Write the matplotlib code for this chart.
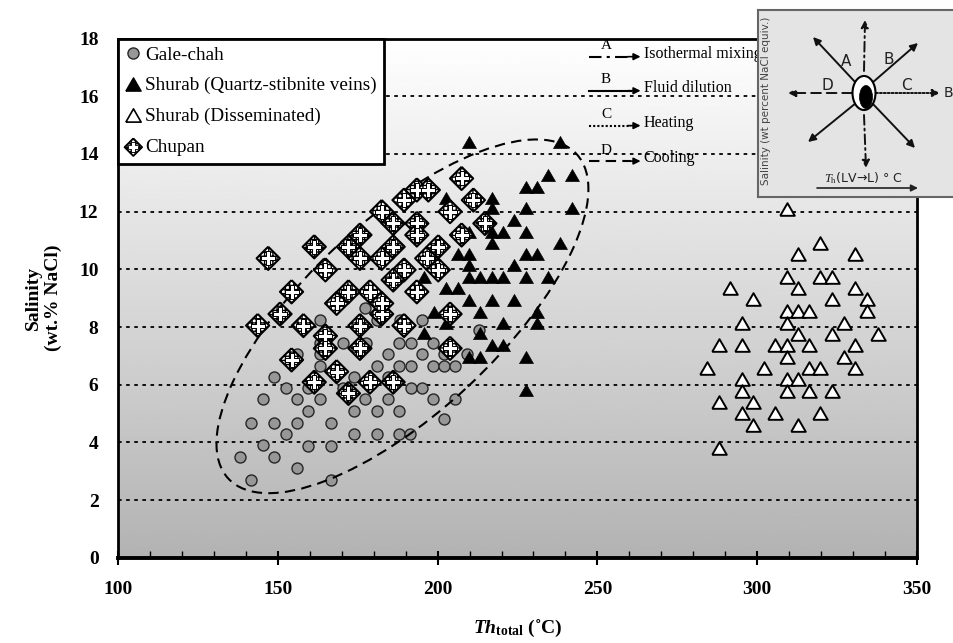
import numpy as np
import matplotlib
matplotlib.use("Agg")
import matplotlib.pyplot as plt
from matplotlib.lines import Line2D
from matplotlib.patches import Ellipse
from matplotlib.transforms import ScaledTranslation
from matplotlib.legend_handler import HandlerTuple

plt.rcParams['font.family'] = 'Liberation Serif'
plt.rcParams['mathtext.fontset'] = 'custom'
plt.rcParams['mathtext.rm'] = 'Liberation Serif'
plt.rcParams['mathtext.bf'] = 'Liberation Serif:bold'
plt.rcParams['mathtext.it'] = 'Liberation Serif:italic'
plt.rcParams['mathtext.bfit'] = 'Liberation Serif:italic:bold'
plt.rcParams['hatch.linewidth'] = 1.0

# Gale-chah (grey circles)
gale_x = [138.2, 141.7, 141.7, 145.3, 145.3, 148.9, 148.9, 148.9, 152.5, 152.5,
          156.0, 156.0, 156.0, 159.6, 159.6, 163.2, 163.2, 163.2, 163.2, 166.6,
          166.6, 166.6, 170.3, 173.8, 173.8, 173.8, 177.4, 177.4, 180.9, 180.9,
          180.9, 184.5, 184.5, 188.0, 188.0, 188.0, 188.0, 191.5, 180.9, 188.2,
          195.1, 213.0, 177.5, 191.7, 198.7, 195.1, 202.1, 209.2, 191.7, 198.7,
          202.1, 205.6, 184.5, 170.3, 191.7, 195.1, 198.7, 205.6, 202.1, 163.2,
          156.0, 159.6]
gale_y = [3.50, 2.70, 4.68, 3.90, 5.49, 6.27, 4.68, 3.50, 5.89, 4.29,
          5.49, 4.68, 3.10, 5.09, 3.89, 5.49, 6.65, 7.08, 8.24, 4.68,
          3.89, 2.70, 7.44, 6.27, 5.09, 4.29, 8.65, 5.49, 6.65, 5.09,
          4.29, 7.08, 5.49, 6.65, 5.09, 4.29, 7.44, 4.29, 8.24, 8.24,
          8.24, 7.90, 7.46, 7.46, 7.46, 7.08, 7.08, 7.08, 6.65, 6.65,
          6.65, 6.65, 6.27, 5.89, 5.89, 5.89, 5.49, 5.49, 4.80, 7.44,
          7.08, 5.89]

# Shurab quartz-stibnite veins (black triangles)
veins_x = [209.9, 238.3, 234.6, 241.9, 227.7, 231.2, 202.6, 216.9, 216.9, 227.7,
           241.9, 224.0, 227.7, 216.9, 220.6, 209.9, 216.9, 238.3, 206.3, 209.9,
           227.7, 231.2, 209.9, 224.0, 195.7, 209.9, 213.3, 216.9, 220.6, 227.7,
           234.6, 202.6, 206.3, 209.9, 216.9, 224.0, 199.0, 213.3, 231.2, 202.6,
           220.6, 231.2, 195.7, 213.3, 216.9, 220.6, 209.9, 213.3, 227.7, 227.7]
veins_y = [14.42, 14.42, 13.27, 13.27, 12.86, 12.86, 12.46, 12.46, 12.11, 12.11,
           12.11, 11.71, 11.30, 11.30, 11.30, 11.30, 10.90, 10.90, 10.53, 10.53,
           10.53, 10.53, 10.15, 10.15, 9.74, 9.74, 9.74, 9.74, 9.74, 9.74,
           9.74, 9.34, 9.34, 8.94, 8.94, 8.94, 8.53, 8.53, 8.53, 8.15,
           8.15, 8.15, 7.78, 7.78, 7.38, 7.38, 6.97, 6.97, 6.97, 5.82]

# Shurab disseminated (open triangles)
dissem_x = [309.2, 319.8, 312.9, 330.6, 309.2, 319.8, 323.5, 291.5, 312.9, 330.6,
            298.6, 323.5, 334.3, 309.2, 312.9, 316.3, 334.3, 295.1, 309.2, 327.1,
            312.9, 323.5, 337.7, 288.0, 295.1, 305.6, 309.2, 316.3, 330.6, 309.2,
            327.1, 284.4, 302.1, 316.3, 319.8, 330.6, 295.1, 309.2, 312.9, 295.1,
            309.2, 316.3, 323.5, 288.0, 298.6, 295.1, 305.6, 319.8, 298.6, 312.9,
            288.0]
dissem_y = [12.08, 10.92, 10.53, 10.53, 9.72, 9.72, 9.72, 9.34, 9.34, 9.34,
            8.96, 8.96, 8.96, 8.55, 8.55, 8.55, 8.55, 8.15, 8.13, 8.15,
            7.76, 7.76, 7.76, 7.38, 7.38, 7.38, 7.38, 7.38, 7.38, 6.97,
            6.97, 6.57, 6.57, 6.57, 6.57, 6.57, 6.19, 6.19, 6.19, 5.79,
            5.79, 5.79, 5.79, 5.39, 5.39, 5.01, 5.01, 5.01, 4.60, 4.60,
            3.82]

# Chupan (crossed diamonds)
chupan_x = [147.0, 143.7, 150.7, 158.0, 161.4, 164.9, 154.3, 168.4, 164.9, 164.9,
            154.3, 168.4, 161.4, 172.1, 175.7, 175.7, 178.8, 186.1, 182.5, 182.5,
            172.1, 178.8, 172.1, 175.7, 182.5, 175.7, 186.1, 182.5, 186.1, 189.5,
            189.5, 186.1, 189.5, 193.5, 197.1, 193.5, 193.5, 193.5, 196.6, 200.2,
            200.2, 203.9, 203.9, 203.9, 207.5, 207.5, 211.2, 214.8]
chupan_y = [10.38, 8.05, 8.45, 8.05, 10.78, 9.98, 9.22, 8.82, 7.69, 7.26,
            6.86, 6.45, 6.09, 5.70, 8.05, 7.26, 6.09, 6.09, 8.45, 8.82,
            9.22, 9.22, 10.78, 10.38, 10.38, 11.19, 10.78, 12.00, 11.59, 12.40,
            9.98, 9.63, 8.05, 12.75, 12.75, 11.59, 11.19, 9.22, 10.38, 10.78,
            9.98, 12.00, 8.45, 7.26, 13.15, 11.19, 12.40, 11.59]

labels = ['Gale-chah', 'Shurab (Quartz-stibnite veins)',
          'Shurab (Disseminated)', 'Chupan']
process_letters = ['A', 'B', 'C', 'D']
process_names = ['Isothermal mixing', 'Fluid dilution', 'Heating', 'Cooling']
process_styles = [(0, (6, 2.5, 1.5, 2.5)), '-', (0, (1, 1)), (0, (5, 3))]

tri = [(-1, -0.866), (1, -0.866), (0, 0.866), (-1, -0.866)]
diamond = [(0, 1), (1, 0), (0, -1), (-1, 0), (0, 1)]

fig = plt.figure(figsize=(9.54, 6.43), dpi=100)
ax = fig.add_axes([118 / 954, 1 - 557.8 / 643, 799 / 954, 519.3 / 643])
ax.set_xlim(100, 350)
ax.set_ylim(0, 18)

# grey gradient background
grad = np.linspace(0.70, 1.0, 256)[:, None]
ax.imshow(grad, extent=[100, 350, 0, 18], origin='lower', aspect='auto',
          cmap='gray', vmin=0, vmax=1, zorder=0)

for yv in range(2, 18, 2):
    ax.axhline(yv, color='k', lw=1.3, ls=(0, (2, 2.5)), zorder=0.5)

ax.scatter(gale_x, gale_y, s=63, marker='o', facecolor='#979797',
           edgecolor='#262626', linewidth=1, zorder=2)
ax.scatter(veins_x, veins_y, s=100, marker=tri, facecolor='k',
           edgecolor='k', linewidth=0.5, zorder=2.6)
ax.scatter(dissem_x, dissem_y, s=110, marker=tri, facecolor='white',
           edgecolor='k', linewidth=1.4, zorder=2.6)

# dashed ellipse around the mixing trend
ell = Ellipse((0, 0), width=4.76, height=1.92, angle=43, fill=False,
              ec='k', lw=1.5, ls=(0, (5, 3)),
              transform=fig.dpi_scale_trans + ScaledTranslation(189.0, 8.37, ax.transData),
              zorder=2.5)
ax.add_patch(ell)

ax.scatter(chupan_x, chupan_y, s=280, marker=diamond, facecolor='white',
           edgecolor='k', linewidth=1.5, hatch='++++', zorder=3)
ax.scatter(chupan_x, chupan_y, s=88, marker='P', facecolor='white',
           edgecolor='k', linewidth=0.7, zorder=3.1)

# process arrows legend (A-D)
arrow_y = [17.37, 16.19, 14.98, 13.75]
for let, name, ls, yy in zip(process_letters, process_names, process_styles, arrow_y):
    ax.plot([247.4, 260.5], [yy, yy], color='k', lw=1.5, ls=ls, zorder=4)
    ax.annotate('', xy=(263.5, yy), xytext=(259.5, yy),
                arrowprops=dict(arrowstyle='-|>', color='k', lw=1.2,
                                mutation_scale=10, shrinkA=0, shrinkB=0), zorder=4)
    ax.text(252.7, yy + 0.38, let, fontsize=11, ha='center', va='center', zorder=4)
    ax.text(264.5, yy + 0.1, name, fontsize=11.5, ha='left', va='center', zorder=4)

ax.set_xticks(range(100, 351, 50))
ax.set_xticks(range(100, 351, 10), minor=True)
ax.set_yticks(range(0, 19, 2))
ax.tick_params(axis='x', which='major', direction='inout', length=10, width=1.5,
               labelsize=14, pad=12)
ax.tick_params(axis='x', which='minor', direction='in', length=5, width=1)
ax.tick_params(axis='y', length=0, labelsize=14, pad=14)
for lab in ax.get_xticklabels() + ax.get_yticklabels():
    lab.set_fontweight('bold')
for sp in ax.spines.values():
    sp.set_linewidth(2)
ax.spines['bottom'].set_linewidth(2.8)

ax.set_ylabel('Salinity\n(wt.% NaCl)', fontsize=14, fontweight='bold', labelpad=12)
ax.set_xlabel(r'$\mathbfit{Th}_{\mathbf{total}}$ (˚C)', fontsize=14, fontweight='bold',
              labelpad=14)

# legend
h1 = Line2D([], [], ls='none', marker='o', ms=8, mfc='#979797', mec='#262626', mew=1)
h2 = Line2D([], [], ls='none', marker=tri, ms=11, mfc='k', mec='k')
h3 = Line2D([], [], ls='none', marker=tri, ms=11, mfc='white', mec='k', mew=1.2)
h4a = ax.scatter([], [], s=160, marker=diamond, facecolor='white', edgecolor='k',
                 linewidth=1.3, hatch='++++')
h4b = ax.scatter([], [], s=55, marker='P', facecolor='white', edgecolor='k', linewidth=0.6)
leg = ax.legend([h1, h2, h3, (h4a, h4b)], labels, loc='upper left',
                bbox_to_anchor=(0, 1), borderaxespad=0, fontsize=13.8,
                handlelength=0.8, handletextpad=0.2, labelspacing=0.7,
                borderpad=0.4, fancybox=False, framealpha=1, edgecolor='k',
                handler_map={tuple: HandlerTuple(ndivide=1, pad=0)})
leg.get_frame().set_linewidth(2)
leg.set_zorder(6)

# inset schematic (top right)
ins = fig.add_axes([758 / 954, 1 - 197 / 643, 230 / 954, 187 / 643])
ins.set_xlim(0, 230)
ins.set_ylim(0, 187)
ins.set_facecolor('#e4e4e4')
ins.set_xticks([])
ins.set_yticks([])
for sp in ins.spines.values():
    sp.set_color('#666666')
    sp.set_linewidth(1.5)

cx, cy = 106, 104
inset_arrows = [
    ((cx, cy + 22), (107, 177), (0, (5, 2, 1, 2))),
    ((cx, cy - 22), (108, 29), (0, (5, 2, 1, 2))),
    ((cx - 8, cy + 10), (55, 160), '-'),
    ((cx + 8, cy + 10), (160, 154), '-'),
    ((cx - 8, cy - 10), (50, 55), '-'),
    ((cx + 8, cy - 10), (157, 49), '-'),
    ((cx - 12, cy), (30, 104), (0, (5, 3))),
    ((cx + 12, cy), (182, 104), (0, (1, 1))),
]
for (x0, y0), (x1, y1), ls in inset_arrows:
    ins.annotate('', xy=(x1, y1), xytext=(x0, y0),
                 arrowprops=dict(arrowstyle='-|>', color='#111111', lw=1.4, ls=ls,
                                 mutation_scale=11, shrinkA=0, shrinkB=0))
ins.add_patch(Ellipse((cx, cy), 23, 34, fc='white', ec='k', lw=1.5, zorder=5))
ins.add_patch(Ellipse((cx + 2, cy - 4), 13, 23, fc='k', ec='k', lw=0.5, zorder=6))
ins_font = ['DejaVu Sans']
for t, (tx, ty) in zip(['A', 'B', 'D', 'C'], [(88, 135), (131, 137), (69, 112), (148, 112)]):
    ins.text(tx, ty, t, fontsize=11, family=ins_font, ha='center', va='center', color='#222222')
ins.text(195, 104, 'B', fontsize=10, family=ins_font, ha='right', va='center', color='#222222')
ins.text(8, 96, 'Salinity (wt percent NaCl equiv.)', rotation=90, fontsize=7.5,
         family=ins_font, ha='center', va='center', color='#444444')
ins.text(105, 19, r'$T_\mathrm{h}$(LV→L) ° C', fontsize=9, family=ins_font,
         ha='center', va='center', color='#222222')
ins.annotate('', xy=(160, 9), xytext=(59, 9),
             arrowprops=dict(arrowstyle='-|>', color='#222222', lw=1.2,
                             mutation_scale=10, shrinkA=0, shrinkB=0))

fig.savefig('out.png', dpi=100)
